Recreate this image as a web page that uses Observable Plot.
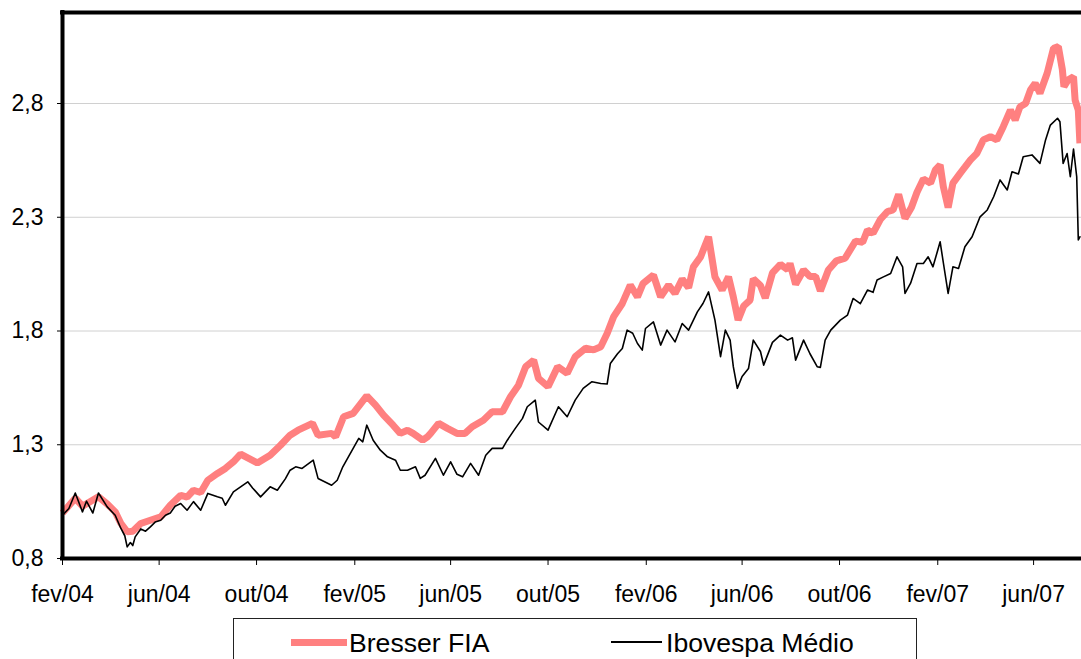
<!DOCTYPE html>
<html>
<head>
<meta charset="utf-8">
<script src="https://cdn.jsdelivr.net/npm/d3@7"></script>
<script src="https://cdn.jsdelivr.net/npm/@observablehq/plot@0.6"></script>
<style>
  html, body { margin: 0; padding: 0; background: #fff; }
  #wrap { position: relative; width: 1081px; height: 659px; overflow: hidden; font-family: "Liberation Sans", Arial, sans-serif; }
  #chart { position: absolute; left: 0; top: 0; }
  #legend { position: absolute; left: 233px; top: 618px; width: 684px; height: 70px; border: 1px solid #222; box-sizing: border-box; background: #fff; }
  #legend .sw { position: absolute; display: block; }
  #legend .lbl { position: absolute; font-size: 26.6px; line-height: 26px; color: #000; white-space: nowrap; }
</style>
</head>
<body>
<div id="wrap">
  <div id="chart"></div>
  <div id="legend"></div>
</div>
<script>
// ---- Data ----
const seriesNames = ["Bresser FIA", "Ibovespa Médio"];

const bresserDates = [
"2004-02-01","2004-02-17","2004-02-26","2004-03-17","2004-03-28","2004-04-07","2004-04-14","2004-04-22","2004-04-29","2004-05-09",
"2004-05-21","2004-06-03","2004-06-15","2004-06-28","2004-07-06","2004-07-14","2004-07-23","2004-08-01","2004-08-13","2004-08-23",
"2004-09-02","2004-09-11","2004-10-02","2004-10-18","2004-10-31","2004-11-12","2004-11-22","2004-12-10","2004-12-17","2005-01-03",
"2005-01-08","2005-01-18","2005-01-30","2005-02-16","2005-02-27","2005-03-09","2005-03-21","2005-03-30","2005-04-08","2005-04-15",
"2005-04-27","2005-05-03","2005-05-07","2005-05-17","2005-05-28","2005-06-09","2005-06-19","2005-06-28","2005-07-12","2005-07-23",
"2005-08-05","2005-08-15","2005-08-25","2005-09-03","2005-09-13","2005-09-19","2005-10-01","2005-10-13","2005-10-25","2005-11-04",
"2005-11-17","2005-11-27","2005-12-06","2005-12-14","2005-12-22","2006-01-02","2006-01-12","2006-01-21","2006-01-28","2006-02-10",
"2006-02-19","2006-03-01","2006-03-09","2006-03-18","2006-03-26","2006-04-01","2006-04-10","2006-04-20","2006-04-28","2006-05-07",
"2006-05-15","2006-05-21","2006-05-27","2006-06-03","2006-06-11","2006-06-15","2006-06-24","2006-06-30","2006-07-09","2006-07-19",
"2006-07-28","2006-07-31","2006-08-07","2006-08-17","2006-08-25","2006-09-01","2006-09-07","2006-09-17","2006-09-27","2006-10-08",
"2006-10-21","2006-10-30","2006-11-05","2006-11-12","2006-11-21","2006-11-30","2006-12-07","2006-12-14","2006-12-22","2006-12-30",
"2007-01-06","2007-01-14","2007-01-23","2007-01-29","2007-02-04","2007-02-08","2007-02-14","2007-02-20","2007-03-01","2007-03-07",
"2007-03-14","2007-03-22","2007-03-30","2007-04-08","2007-04-16","2007-04-24","2007-05-03","2007-05-09","2007-05-15","2007-05-22",
"2007-05-28","2007-06-03","2007-06-09","2007-06-18","2007-06-26","2007-07-02","2007-07-07","2007-07-09","2007-07-14","2007-07-21",
"2007-07-23","2007-07-27","2007-07-29"
];
const bresserValues = [
1.00,1.065,1.03,1.071,1.04,1.005,0.955,0.917,0.92,0.954,
0.968,0.983,1.034,1.078,1.07,1.10,1.09,1.144,1.174,1.196,
1.225,1.259,1.22,1.254,1.298,1.342,1.364,1.394,1.342,1.35,
1.335,1.423,1.438,1.515,1.474,1.43,1.386,1.35,1.364,1.35,
1.32,1.335,1.35,1.394,1.372,1.35,1.35,1.379,1.408,1.445,
1.445,1.511,1.562,1.643,1.672,1.592,1.555,1.643,1.614,1.687,
1.724,1.717,1.731,1.789,1.862,1.921,2.002,1.95,2.009,2.046,
1.95,2.002,1.965,2.028,1.99,2.082,2.126,2.214,2.038,1.98,
2.038,1.95,1.848,1.91,1.936,2.03,2.0,1.945,2.055,2.093,
2.07,2.097,2.005,2.068,2.04,2.04,1.976,2.068,2.108,2.12,
2.195,2.19,2.244,2.23,2.29,2.325,2.332,2.4,2.295,2.343,
2.41,2.468,2.45,2.508,2.53,2.434,2.343,2.45,2.493,2.52,
2.552,2.581,2.64,2.654,2.64,2.698,2.771,2.727,2.786,2.80,
2.859,2.889,2.845,2.933,3.043,3.05,2.95,2.874,2.903,2.918,
2.815,2.771,2.625
];

const ibovDates = [
"2004-02-01","2004-02-09","2004-02-17","2004-02-26","2004-03-02","2004-03-10","2004-03-17","2004-03-28","2004-04-07","2004-04-14",
"2004-04-19","2004-04-22","2004-04-26","2004-04-29","2004-05-02","2004-05-09","2004-05-15","2004-05-21","2004-05-27","2004-06-03",
"2004-06-09","2004-06-15","2004-06-21","2004-06-28","2004-07-06","2004-07-14","2004-07-23","2004-08-01","2004-08-13","2004-08-19",
"2004-08-23","2004-09-02","2004-09-11","2004-09-20","2004-09-26","2004-10-06","2004-10-18","2004-10-27","2004-11-06","2004-11-12",
"2004-11-19","2004-11-27","2004-12-11","2004-12-17","2005-01-03","2005-01-10","2005-01-17","2005-01-24","2005-02-06","2005-02-11",
"2005-02-16","2005-02-24","2005-03-05","2005-03-14","2005-03-24","2005-03-30","2005-04-08","2005-04-18","2005-04-24","2005-04-30",
"2005-05-13","2005-05-23","2005-06-01","2005-06-09","2005-06-16","2005-06-26","2005-07-06","2005-07-15","2005-07-23","2005-08-05",
"2005-08-11","2005-08-21","2005-08-30","2005-09-05","2005-09-15","2005-09-19","2005-10-01","2005-10-14","2005-10-25","2005-11-04",
"2005-11-14","2005-11-25","2005-12-06","2005-12-14","2005-12-18","2005-12-27","2006-01-02","2006-01-08","2006-01-15","2006-01-21",
"2006-01-27","2006-01-31","2006-02-10","2006-02-19","2006-02-27","2006-03-09","2006-03-18","2006-03-26","2006-04-06","2006-04-13",
"2006-04-20","2006-04-28","2006-05-05","2006-05-11","2006-05-17","2006-05-21","2006-05-26","2006-06-01","2006-06-09","2006-06-15",
"2006-06-24","2006-06-28","2006-07-09","2006-07-19","2006-07-28","2006-08-03","2006-08-07","2006-08-17","2006-08-25","2006-09-03",
"2006-09-07","2006-09-13","2006-09-20","2006-10-02","2006-10-11","2006-10-18","2006-10-27","2006-11-05","2006-11-12","2006-11-17",
"2006-11-25","2006-12-04","2006-12-12","2006-12-19","2006-12-22","2006-12-29","2007-01-06","2007-01-14","2007-01-20","2007-01-26",
"2007-02-04","2007-02-08","2007-02-14","2007-02-20","2007-02-27","2007-03-07","2007-03-16","2007-03-26","2007-04-04","2007-04-12",
"2007-04-20","2007-04-29","2007-05-05","2007-05-13","2007-05-19","2007-05-30","2007-06-09","2007-06-16","2007-06-22","2007-07-01",
"2007-07-04","2007-07-08","2007-07-13","2007-07-17","2007-07-21","2007-07-25","2007-07-27","2007-07-29"
];
const ibovValues = [
0.99,1.02,1.088,1.005,1.052,1.0,1.088,1.027,0.99,0.933,
0.90,0.851,0.87,0.857,0.895,0.93,0.92,0.939,0.96,0.968,
0.99,1.0,1.03,1.042,1.012,1.05,1.012,1.086,1.071,1.065,
1.034,1.093,1.115,1.137,1.11,1.071,1.115,1.10,1.15,1.188,
1.203,1.196,1.232,1.152,1.122,1.144,1.203,1.247,1.328,1.313,
1.386,1.32,1.276,1.247,1.232,1.188,1.188,1.203,1.152,1.166,
1.24,1.166,1.225,1.17,1.159,1.218,1.166,1.254,1.284,1.284,
1.32,1.372,1.416,1.467,1.496,1.40,1.364,1.467,1.423,1.496,
1.548,1.577,1.569,1.567,1.657,1.70,1.723,1.804,1.79,1.745,
1.716,1.811,1.84,1.738,1.804,1.752,1.833,1.804,1.884,1.921,
1.972,1.848,1.687,1.804,1.76,1.643,1.548,1.60,1.635,1.76,
1.71,1.65,1.75,1.782,1.76,1.77,1.672,1.76,1.70,1.643,
1.64,1.76,1.804,1.848,1.87,1.943,1.92,1.98,1.97,2.024,
2.038,2.053,2.126,2.082,1.965,2.01,2.097,2.097,2.126,2.082,
2.192,2.10,1.965,2.082,2.075,2.17,2.214,2.302,2.332,2.39,
2.464,2.42,2.5,2.49,2.566,2.574,2.537,2.64,2.705,2.735,
2.72,2.537,2.58,2.478,2.6,2.478,2.2,2.214
];

const yTicks = [0.8, 1.3, 1.8, 2.3, 2.8];
const xTickDates = ["2004-02-01","2004-06-01","2004-10-01","2005-02-01","2005-06-01","2005-10-01",
                    "2006-02-01","2006-06-01","2006-10-01","2007-02-01","2007-06-01"];
const xTickLabels = ["fev/04","jun/04","out/04","fev/05","jun/05","out/05",
                     "fev/06","jun/06","out/06","fev/07","jun/07"];
const xDomain = ["2004-02-01", "2007-07-31"];
const yDomain = [0.8, 3.2];
const colors = ["#ff8080", "#000000"];

// ---- Build tables ----
const bresser = bresserDates.map((d, i) => ({date: new Date(d), value: bresserValues[i]}));
const ibov = ibovDates.map((d, i) => ({date: new Date(d), value: ibovValues[i]}));
const xTicks = xTickDates.map(d => new Date(d));
const labelOf = new Map(xTicks.map((d, i) => [+d, xTickLabels[i]]));
const x0 = new Date(xDomain[0]);

const chart = Plot.plot({
  width: 1081,
  height: 612,
  marginLeft: 62,
  marginRight: 0,
  marginTop: 12,
  marginBottom: 54,
  x: {type: "utc", domain: xDomain.map(d => new Date(d)), label: null},
  y: {domain: yDomain, label: null},
  style: {
    fontFamily: "'Liberation Sans', Arial, sans-serif",
    fontSize: "23px",
    color: "#000",
    background: "transparent",
    overflow: "visible"
  },
  marks: [
    Plot.gridY(yTicks.slice(1), {stroke: "#d0d0d0", strokeOpacity: 1, strokeWidth: 1}),
    Plot.line(bresser, {x: "date", y: "value", stroke: colors[0], strokeWidth: 7, strokeLinejoin: "miter", strokeLinecap: "butt"}),
    Plot.line(ibov, {x: "date", y: "value", stroke: colors[1], strokeWidth: 1.6, strokeLinejoin: "round"}),
    Plot.ruleY([yDomain[1]], {stroke: "#000", strokeWidth: 4, insetLeft: -2}),
    Plot.ruleY([yDomain[0]], {stroke: "#000", strokeWidth: 4, insetLeft: -2}),
    Plot.ruleX([x0], {stroke: "#000", strokeWidth: 4, insetTop: -2, insetBottom: -2}),
    Plot.axisY(yTicks, {
      tickSize: 5, tickPadding: 14, label: null,
      tickFormat: d => d.toFixed(1).replace(".", ","),
      fontSize: 23, stroke: "#000"
    }),
    Plot.axisX(xTicks, {
      tickSize: 7, tickPadding: 20, label: null,
      tickFormat: d => labelOf.get(+d),
      fontSize: 23, stroke: "#000"
    })
  ]
});
document.getElementById("chart").appendChild(chart);

// ---- Legend (HTML, below the SVG) ----
const legend = document.getElementById("legend");
const items = [
  {name: seriesNames[0], color: colors[0], swLeft: 57, swWidth: 56, swHeight: 7, txtLeft: 115},
  {name: seriesNames[1], color: colors[1], swLeft: 377, swWidth: 51, swHeight: 1.6, txtLeft: 432}
];
for (const it of items) {
  const sw = document.createElement("span");
  sw.className = "sw";
  sw.style.left = it.swLeft + "px";
  sw.style.width = it.swWidth + "px";
  sw.style.height = it.swHeight + "px";
  sw.style.top = (23 - it.swHeight / 2) + "px";
  sw.style.background = it.color;
  legend.appendChild(sw);
  const t = document.createElement("span");
  t.className = "lbl";
  t.style.left = it.txtLeft + "px";
  t.style.top = "11px";
  t.textContent = it.name;
  legend.appendChild(t);
}
</script>
</body>
</html>
